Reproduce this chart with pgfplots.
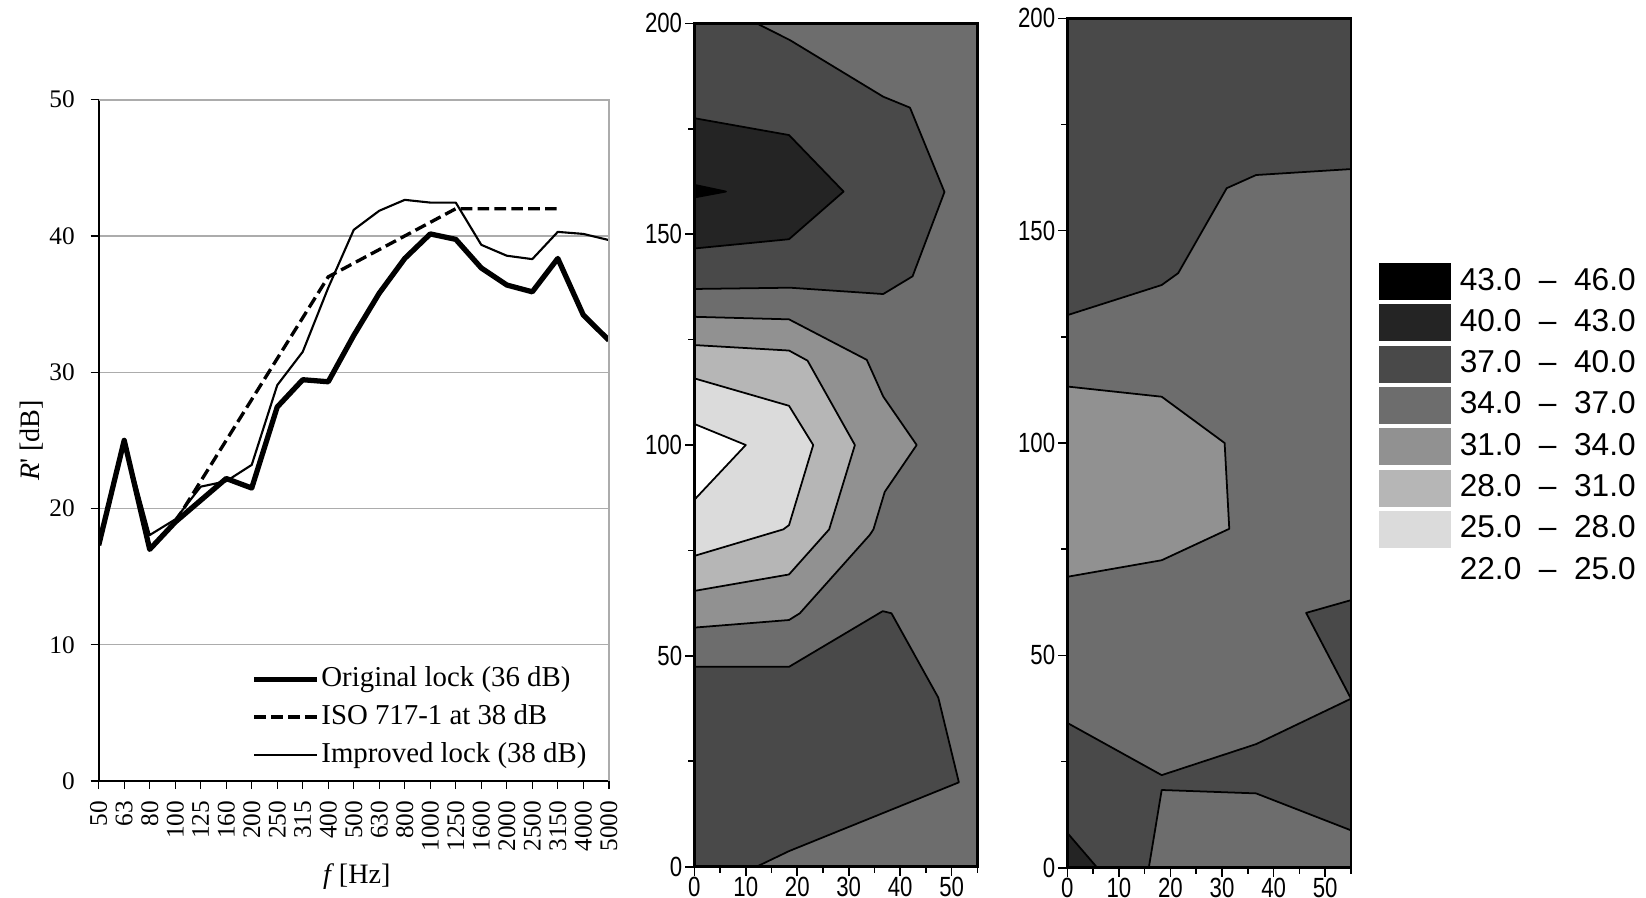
\documentclass[border=0pt]{standalone}
\usepackage{fontspec}
\setmainfont{Liberation Serif}
\setsansfont{Liberation Sans}
\newfontfamily\condsans[FakeStretch=0.8]{Liberation Sans}
\usepackage{pgfplots}
\pgfplotsset{compat=1.18}
\definecolor{c40}{RGB}{36,36,36}
\definecolor{c37}{RGB}{73,73,73}
\definecolor{c34}{RGB}{109,109,109}
\definecolor{c31}{RGB}{145,145,145}
\definecolor{c28}{RGB}{182,182,182}
\definecolor{c25}{RGB}{219,219,219}
\pgfplotsset{
  cont/.style={anchor=south west, scale only axis, xmin=0, xmax=55, ymin=0, ymax=200, axis on top,
    xtick={0,10,...,50}, minor xtick={5,15,...,55}, ytick={0,50,...,200}, minor ytick={25,75,125,175},
    xtick pos=bottom, ytick pos=left, tick align=outside, major tick length=0.9mm, minor tick length=0.6mm,
    axis line style={line width=0.7pt}, tick style={black, line width=0.45pt},
    /pgf/number format/assume math mode=true,
    ticklabel style={font=\fontsize{7.9}{8.5}\condsans},
    yticklabel style={inner sep=0.25mm}, xticklabel style={inner sep=0.1mm}},
  reg/.style={draw=black, line width=0.5pt, line join=round, forget plot},
}
\begin{document}
\begin{tikzpicture}
\path[use as bounding box] (0,0) rectangle (164.6mm,89.7mm);
% ---------- left line chart ----------
\begin{axis}[
  at={(9.87mm,11.6mm)}, anchor=south west, scale only axis,
  width=51.01mm, height=68.13mm,
  xmin=0, xmax=20, ymin=0, ymax=50,
  axis x line*=bottom, axis y line*=left,
  axis line style={black, line width=0.5pt},
  xtick={0,...,20},
  xticklabels={50,63,80,100,125,160,200,250,315,400,500,630,800,1000,1250,1600,2000,2500,3150,4000,5000},
  ytick={0,10,20,30,40,50},
  tick align=outside, major tick length=0.8mm,
  tick style={black, line width=0.4pt},
  ymajorgrids, grid style={gray!65, line width=0.35pt},
  /pgf/number format/assume math mode=true,
  ticklabel style={font=\fontsize{7.2}{8}\selectfont},
  yticklabel style={xshift=-0.35mm},
  xticklabel style={rotate=90, anchor=east, inner sep=1.1mm},
  xlabel={\textit{f}\,[Hz]}, ylabel={\textit{R}\textquotesingle\ [dB]},
  label style={font=\fontsize{8}{9}\selectfont},
  xlabel style={at={(axis description cs:0.506,-0.140)}, anchor=center},
  ylabel style={at={(axis description cs:-0.1317,0.5)}, anchor=center},
  legend style={at={(0.2985,0.169)}, anchor=north west, draw=none, fill=none, inner sep=0pt,
    row sep=1.25mm, font=\fontsize{8.2}{10}\selectfont, nodes={inner sep=0pt},
    /tikz/every odd column/.append style={column sep=0.15mm}},
  legend cell align=left,
  legend image code/.code={\draw[#1] (0mm,0mm) -- (6.3mm,0mm);},
  extra description/.code={\draw[gray!65, line width=0.5pt] (0,1) -- (1,1) -- (1,0);},
]
\addplot[black, line width=1.5pt, line join=round] coordinates {(0,17.3)(1,25.0)(2,17.0)(3,19.0)(4,20.6)(5,22.2)(6,21.5)(7,27.45)(8,29.45)(9,29.3)(10,32.7)(11,35.8)(12,38.35)(13,40.15)(14,39.75)(15,37.65)(16,36.4)(17,35.9)(18,38.35)(19,34.2)(20,32.35)};
\addlegendentry{Original lock (36 dB)}
\addplot[black, line width=0.95pt, dash pattern=on 3.3pt off 1.5pt] coordinates {(3,19)(4,22)(5,25)(6,28)(7,31)(8,34)(9,37)(10,38)(11,39)(12,40)(13,41)(14,42)(15,42)(16,42)(17,42)(18,42)};
\addlegendentry{ISO 717-1 at 38 dB}
\addplot[black, line width=0.6pt, line join=round] coordinates {(0,17.3)(1,25.0)(2,18.05)(3,19.2)(4,21.6)(5,22.0)(6,23.2)(7,29.05)(8,31.5)(9,36.2)(10,40.45)(11,41.85)(12,42.65)(13,42.45)(14,42.45)(15,39.35)(16,38.55)(17,38.3)(18,40.3)(19,40.15)(20,39.7)};
\addlegendentry{Improved lock (38 dB)}
\end{axis}
% ---------- middle contour ----------
\begin{axis}[cont, at={(69.43mm,3.03mm)}, width=28.31mm, height=84.34mm]
\addplot[fill=c34, draw=none, forget plot] coordinates {(0,0)(55,0)(55,200)(0,200)} -- cycle;
\addplot[reg, fill=c37] coordinates {(0,200)(12.1,200)(18.6,196)(36.7,182.6)(41.9,180)(48.6,160)(42.4,140)(36.7,135.8)(18.6,137.3)(0,137)} -- cycle;
\addplot[reg, fill=c40] coordinates {(0,177.5)(18.4,173.5)(29.0,160.1)(18.4,148.8)(0,146.6)} -- cycle;
\addplot[reg, fill=black] coordinates {(0,161.7)(6.15,160.1)(0,158.7)} -- cycle;
\addplot[reg, fill=c31] coordinates {(0,130.4)(18.4,129.8)(33.5,120.2)(36.7,111.5)(43.2,100)(37.0,88.9)(34.8,80)(34.1,78.7)(20.5,60.1)(18.4,58.5)(0,56.7)} -- cycle;
\addplot[reg, fill=c28] coordinates {(0,123.7)(18.4,122.4)(22.0,120)(31.2,100)(26.2,80)(18.4,69.3)(0,65.4)} -- cycle;
\addplot[reg, fill=c25] coordinates {(0,115.8)(18.4,109.3)(23.1,100)(18.4,81.0)(17.3,80)(0,73.7)} -- cycle;
\addplot[reg, fill=white] coordinates {(0,105)(10,100)(0,87)} -- cycle;
\addplot[reg, fill=c37] coordinates {(0,47.4)(18.4,47.4)(36.6,60.6)(38.3,60.1)(47.4,40.1)(51.4,20.0)(18.4,3.7)(12.1,0)(0,0)} -- cycle;
\end{axis}
% ---------- right contour ----------
\begin{axis}[cont, at={(106.73mm,2.93mm)}, width=28.37mm, height=84.94mm,
  legend style={at={(1.0962,0.7126)}, anchor=north west, draw=none, fill=none, inner sep=0pt,
    row sep=0.43mm, font=\fontsize{9}{10}\sffamily, nodes={inner sep=0pt},
    /tikz/every odd column/.append style={column sep=0.84mm}},
  legend cell align=left,
  legend image code/.code={\fill[#1, draw=none] (0mm,-1.85mm) rectangle (7.24mm,1.85mm);},
]
\addplot[fill=c34, draw=none, forget plot] coordinates {(0,0)(55,0)(55,200)(0,200)} -- cycle;
\addplot[reg, fill=c37] coordinates {(0,200)(55,200)(55,164.5)(36.6,163.1)(30.9,160)(21.5,140)(18.3,137.2)(0,130.1)} -- cycle;
\addplot[reg, fill=c31] coordinates {(0,113.3)(18.3,110.9)(30.5,100)(31.4,79.8)(18.3,72.4)(0,68.5)} -- cycle;
\addplot[reg, fill=c37] coordinates {(0,34.1)(18.3,21.8)(36.6,29.1)(55,39.8)(55,8.8)(36.6,17.5)(18.3,18.3)(15.8,0)(0,0)} -- cycle;
\addplot[reg, fill=c40] coordinates {(0,8.2)(5.8,0)(0,0)} -- cycle;
\addplot[reg, fill=c37] coordinates {(46.3,60)(55,63)(55,39.8)} -- cycle;
\addlegendimage{fill=black, draw=none}
\addlegendentry{43.0\ \ –\ \ 46.0}
\addlegendimage{fill=c40, draw=none}
\addlegendentry{40.0\ \ –\ \ 43.0}
\addlegendimage{fill=c37, draw=none}
\addlegendentry{37.0\ \ –\ \ 40.0}
\addlegendimage{fill=c34, draw=none}
\addlegendentry{34.0\ \ –\ \ 37.0}
\addlegendimage{fill=c31, draw=none}
\addlegendentry{31.0\ \ –\ \ 34.0}
\addlegendimage{fill=c28, draw=none}
\addlegendentry{28.0\ \ –\ \ 31.0}
\addlegendimage{fill=c25, draw=none}
\addlegendentry{25.0\ \ –\ \ 28.0}
\addlegendimage{fill=white, draw=none}
\addlegendentry{22.0\ \ –\ \ 25.0}
\end{axis}
\end{tikzpicture}
\end{document}
